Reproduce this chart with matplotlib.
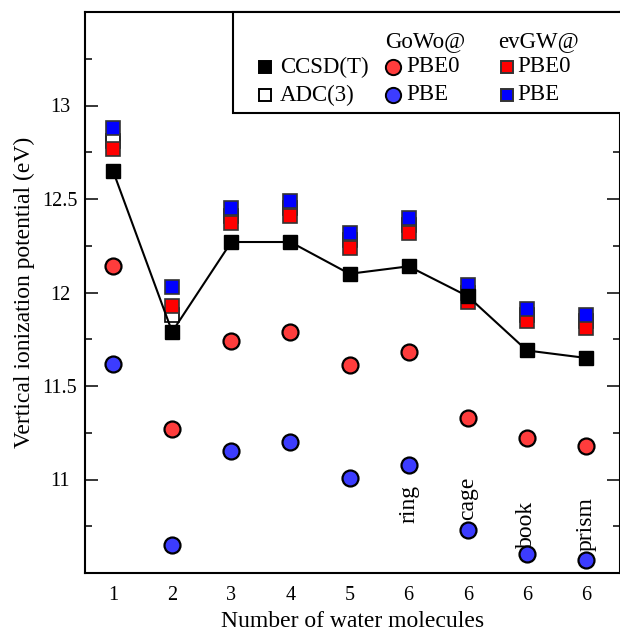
import matplotlib
matplotlib.use("Agg")
import matplotlib.pyplot as plt
from matplotlib.patches import Rectangle

plt.rcParams["font.family"] = ["Liberation Serif", "DejaVu Serif"]

# Dados (eV)
posicoes = [1, 2, 3, 4, 5, 6, 7, 8, 9]
rotulos_x = ["1", "2", "3", "4", "5", "6", "6", "6", "6"]
ccsdt = [12.65, 11.79, 12.27, 12.27, 12.10, 12.14, 11.98, 11.69, 11.65]
adc3 = [12.81, 11.88, 12.41, 12.45, 12.28, 12.36, 12.00, 11.88, 11.85]
ev_pbe0 = [12.77, 11.93, 12.37, 12.41, 12.24, 12.32, 11.95, 11.85, 11.81]
ev_pbe = [12.88, 12.03, 12.45, 12.49, 12.32, 12.40, 12.04, 11.91, 11.88]
g0w0_pbe0 = [12.14, 11.27, 11.74, 11.79, 11.61, 11.68, 11.33, 11.22, 11.18]
g0w0_pbe = [11.62, 10.65, 11.15, 11.20, 11.01, 11.08, 10.73, 10.60, 10.57]
isomeros = ["ring", "cage", "book", "prism"]
isomeros_x = [6, 7, 8, 9]
isomeros_y = [10.765, 10.786, 10.636, 10.615]

vermelho = "#ff0000"
azul = "#0000ff"
verm_circ = "#ff3c3c"
azul_circ = "#3c3cff"

fig = plt.figure(figsize=(6.2, 6.31), dpi=100)
ax = fig.add_axes([85 / 620, 58 / 631, 535 / 620, 561 / 631])

quad = dict(marker="s", markersize=9.4, markeredgewidth=1.2, linestyle="none")
circ = dict(marker="o", markersize=11.5, markeredgewidth=1.6, linestyle="none",
            markeredgecolor="black")

ax.plot(posicoes, adc3, markerfacecolor="white", markeredgecolor="black", zorder=3, **quad)
ax.plot(posicoes, ev_pbe0, markerfacecolor=vermelho, markeredgecolor="#333333", zorder=4, **quad)
ax.plot(posicoes, ev_pbe, markerfacecolor=azul, markeredgecolor="#333333", zorder=5, **quad)
ax.plot(posicoes, g0w0_pbe0, markerfacecolor=verm_circ, zorder=4, **circ)
ax.plot(posicoes, g0w0_pbe, markerfacecolor=azul_circ, zorder=4, **circ)
ax.plot(posicoes, ccsdt, color="black", linewidth=1.5, marker="s", markersize=9.4,
        markerfacecolor="black", markeredgecolor="black", zorder=6)

for nome, xi, yi in zip(isomeros, isomeros_x, isomeros_y):
    ax.text(xi, yi, nome, rotation=90, ha="center", va="bottom", fontsize=17)

ax.set_xlim(0.526, 9.575)
ax.set_ylim(10.5, 13.5)
ax.set_xticks(posicoes)
ax.set_xticklabels(rotulos_x)
ax.set_xticks([2, 4, 6, 8], minor=True)
ax.set_yticks([11, 11.5, 12, 12.5, 13])
ax.set_yticklabels(["11", "11.5", "12", "12.5", "13"], ha="center")
ax.set_yticks([10.75, 11.25, 11.75, 12.25, 12.75, 13.25], minor=True)

ax.tick_params(axis="x", which="major", length=0, pad=9, labelsize=14.5)
ax.tick_params(axis="x", which="minor", direction="in", length=9.4, width=1.1,
               top=True, bottom=True)
ax.tick_params(axis="y", which="major", direction="in", length=9.4, width=1.1,
               left=True, right=True, labelsize=14.5, pad=18)
ax.tick_params(axis="y", which="minor", direction="in", length=5, width=1.1,
               left=True, right=True)
for s in ax.spines.values():
    s.set_linewidth(1.5)

ax.set_xlabel("Number of water molecules", fontsize=17, labelpad=5)
ax.set_ylabel("Vertical ionization potential (eV)", fontsize=17, labelpad=5)

# Legenda manual
def ax_x(px):
    return (px - 85) / 535

def ax_y(py):
    return (573 - py) / 561

caixa = Rectangle((ax_x(233), ax_y(113)), 1.05 - ax_x(233), 1.0 - ax_y(113),
                  transform=ax.transAxes, facecolor="white", edgecolor="black",
                  linewidth=1.5, zorder=10, clip_on=False)
ax.add_patch(caixa)

fs_leg = 16.5
itens = [
    (265, 67, dict(marker="s", markerfacecolor="black", markeredgecolor="black"), "CCSD(T)", 280),
    (265, 95, dict(marker="s", markerfacecolor="white", markeredgecolor="black"), "ADC(3)", 280),
    (393, 67, dict(marker="o", markerfacecolor=verm_circ, markeredgecolor="black"), "PBE0", 406),
    (393, 95, dict(marker="o", markerfacecolor=azul_circ, markeredgecolor="black"), "PBE", 406),
    (507, 67, dict(marker="s", markerfacecolor=vermelho, markeredgecolor="#333333"), "PBE0", 517),
    (507, 95, dict(marker="s", markerfacecolor=azul, markeredgecolor="#333333"), "PBE", 517),
]
for mx, my, estilo, texto, tx in itens:
    tam = 11 if estilo["marker"] == "o" else 9
    ax.plot([ax_x(mx)], [ax_y(my)], transform=ax.transAxes, linestyle="none",
            markersize=tam, markeredgewidth=1.4, zorder=11, clip_on=False, **estilo)
    ax.text(ax_x(tx), ax_y(my), texto, transform=ax.transAxes, fontsize=fs_leg,
            ha="left", va="center", zorder=11)

ax.text(ax_x(385), ax_y(42), "GoWo@", transform=ax.transAxes, fontsize=fs_leg,
        ha="left", va="center", zorder=11)
ax.text(ax_x(498), ax_y(42), "evGW@", transform=ax.transAxes, fontsize=fs_leg,
        ha="left", va="center", zorder=11)

fig.savefig("out.png", dpi=100)
